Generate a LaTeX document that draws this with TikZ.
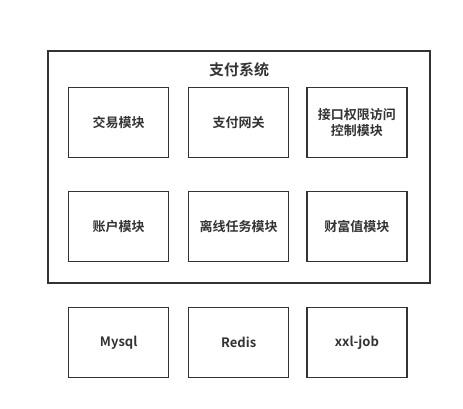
\documentclass[tikz,border=0pt]{standalone}
\usepackage{fontspec}
\newfontfamily\cjk{Noto Sans CJK SC}[BoldFont={Noto Sans CJK SC Bold}]
\definecolor{ink}{HTML}{333333}
\begin{document}
\begin{tikzpicture}[x=1pt,y=-1pt,
  box/.style={draw=ink,line width=1.5pt,minimum width=100pt,minimum height=70pt,inner sep=0pt,font=\cjk\bfseries\fontsize{13}{16}\selectfont,text=ink,align=center},
  outer/.style={draw=ink,line width=1.3pt}]
\useasboundingbox (0,0) rectangle (463,409);
\draw[outer] (48,51) rectangle (430,283);
\node[font=\cjk\bfseries\fontsize{15}{18}\selectfont,text=ink] (title) at (239,69.5) {支付系统};
\node[box] (a) at (118.7,122.7) {交易模块};
\node[box] (b) at (238.7,122.7) {支付网关};
\node[box] (c) at (356.9,122.7) {接口权限访问\\控制模块};
\node[box] (d) at (118.7,226.7) {账户模块};
\node[box] (e) at (238.7,226.7) {离线任务模块};
\node[box] (f) at (356.9,226.7) {财富值模块};
\node[box] (g) at (118.7,342.7) {Mysql};
\node[box] (h) at (238.7,342.7) {Redis};
\node[box] (i) at (356.9,342.7) {xxl-job};
\end{tikzpicture}
\end{document}
